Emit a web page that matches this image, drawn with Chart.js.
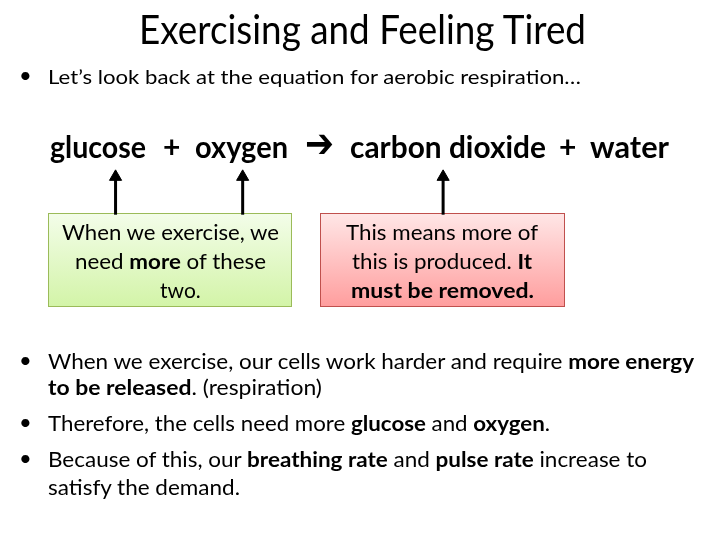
<!DOCTYPE html>
<html>
<head>
<meta charset="utf-8">
<script src="https://cdn.jsdelivr.net/npm/chart.js@4"></script>
<style>
  html, body { margin: 0; padding: 0; background: #fff; }
  #slide { position: relative; width: 720px; height: 540px; overflow: hidden; font-family: Lato, "Open Sans", sans-serif; color: #000; }
  .t { position: absolute; white-space: nowrap; line-height: 1; transform-origin: 0 0; }
  .box { position: absolute; box-sizing: border-box; }
  #green { left: 48px; top: 213px; width: 244px; height: 94px; border: 1px solid #9bbb59; background: linear-gradient(#f3fde9, #d3f4a8); }
  #red { left: 320px; top: 213px; width: 245px; height: 94px; border: 1px solid #c0504d; background: linear-gradient(#ffe6e6, #ff9e9e); }
  #arrows { position: absolute; left: 0; top: 0; pointer-events: none; }
</style>
</head>
<body>
<div id="slide">
  <div class="box" id="green"></div>
  <div class="box" id="red"></div>
  <canvas id="arrows" width="720" height="540"></canvas>
</div>
<script>
// pointer arrows from the boxes up to the words (slide pixels)
const arrowX = [110, 240, 445];
const arrowFrom = 213;
const arrowHead = 174;

// text lines: [left, baseline, width (null = natural), size, bold, html]
const lines = [
  [139, 44, 447, 40, false, "Exercising and Feeling Tired"],
  [19, 84, null, 22, false, "•"],
  [48, 84, 533, 20, false, "Let’s look back at the equation for aerobic respiration…"],
  [50, 158, 96, 30, true, "glucose"],
  [163, 158, null, 30, true, "+"],
  [195, 158, 93, 30, true, "oxygen"],
  [350, 158, 196, 30, true, "carbon dioxide"],
  [559, 158, null, 30, true, "+"],
  [590, 158, 79, 30, true, "water"],
  [62, 240, 217, 21, false, "When we exercise, we"],
  [75, 269, 191, 21, false, "need <b>more</b> of these"],
  [160, 298, null, 21, false, "two."],
  [346, 240, 192, 21, false, "This means more of"],
  [352, 269, 180, 21, false, "this is produced. <b>It</b>"],
  [351, 298, 183, 21, true, "must be removed."],
  [19, 369, null, 22, false, "•"],
  [48, 369, 646, 21, false, "When we exercise, our cells work harder and require <b>more energy</b>"],
  [48, 395, 274, 21, false, "<b>to be released</b>. (respiration)"],
  [19, 431, null, 22, false, "•"],
  [48, 431, 502, 21, false, "Therefore, the cells need more <b>glucose</b> and <b>oxygen</b>."],
  [19, 467, null, 22, false, "•"],
  [48, 467, 599, 21, false, "Because of this, our <b>breathing rate</b> and <b>pulse rate</b> increase to"],
  [48, 495, 192, 21, false, "satisfy the demand."]
];

const slide = document.getElementById("slide");

function place(el, x, base, w, size, asc) {
  el.style.fontSize = size + "px";
  el.style.left = x + "px";
  el.style.top = (base - asc * size) + "px";
  slide.appendChild(el);
  if (w === null) return;
  const actual = el.getBoundingClientRect().width;
  if (actual > 0) el.style.transform = "scaleX(" + (w / actual) + ")";
}

lines.forEach(function (l) {
  const el = document.createElement("div");
  el.className = "t";
  if (l[4]) el.style.fontWeight = "bold";
  el.innerHTML = l[5];
  place(el, l[0], l[1], l[2], l[3], 0.887);
});

// the thick reaction arrow in the equation
const rx = document.createElement("div");
rx.className = "t";
rx.style.fontFamily = "'DejaVu Sans'";
rx.style.fontWeight = "bold";
rx.textContent = "➔";
place(rx, 305, 157, 29, 40, 0.846);

const datasets = [];
arrowX.forEach(function (x) {
  datasets.push({
    type: "line",
    data: [{ x: x, y: arrowFrom }, { x: x, y: arrowHead + 2 }],
    borderColor: "#000",
    borderWidth: 3,
    pointRadius: 0,
  });
  datasets.push({
    type: "scatter",
    data: [{ x: x, y: arrowHead }],
    pointStyle: "triangle",
    pointRadius: 7,
    backgroundColor: "#000",
    borderColor: "#000",
    borderWidth: 1,
  });
});

const ctx = document.getElementById("arrows").getContext("2d");
const arrowChart = new Chart(ctx, {
  type: "scatter",
  data: { datasets: datasets },
  options: {
    responsive: false,
    animation: false,
    layout: { padding: 0 },
    plugins: { legend: { display: false }, tooltip: { enabled: false } },
    scales: {
      x: { type: "linear", min: 0, max: 720, display: false },
      y: { type: "linear", min: 0, max: 540, reverse: true, display: false },
    },
  },
});
</script>
</body>
</html>
